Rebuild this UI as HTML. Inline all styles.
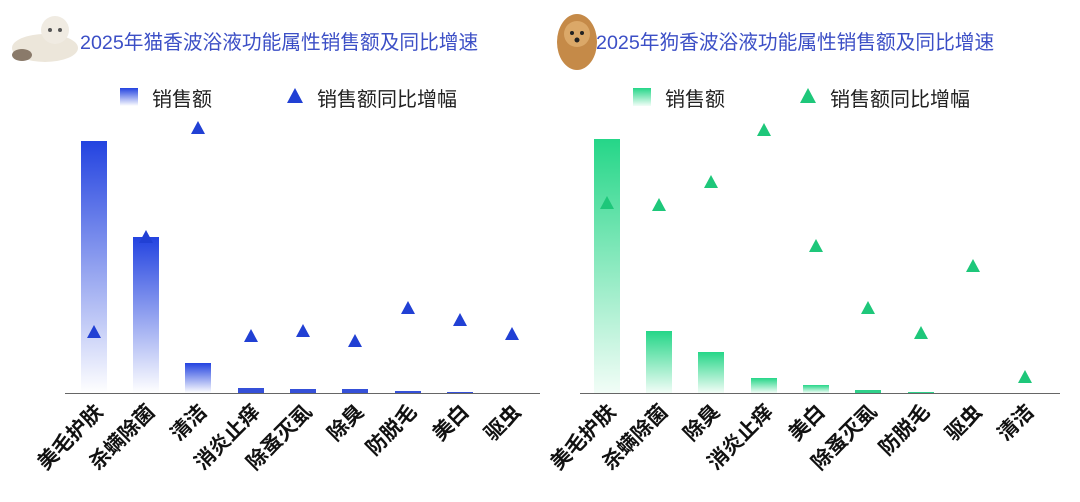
<!DOCTYPE html>
<html><head><meta charset="utf-8"><style>
html,body{margin:0;padding:0;background:#fff;}
svg text{font-family:"Liberation Sans","Noto Sans CJK SC",sans-serif;}
</style></head><body>
<svg width="1080" height="497" viewBox="0 0 1080 497" xmlns="http://www.w3.org/2000/svg">
<defs>
<linearGradient id="gb" x1="0" y1="0" x2="0" y2="1"><stop offset="0" stop-color="#2343e0"/><stop offset="1" stop-color="#ffffff"/></linearGradient>
<linearGradient id="gg" x1="0" y1="0" x2="0" y2="1"><stop offset="0" stop-color="#25d688"/><stop offset="1" stop-color="#f2fdf7"/></linearGradient>
</defs>
<!-- cat -->
<ellipse cx="45" cy="48" rx="33" ry="14" fill="#ece6da"/>
<ellipse cx="22" cy="55" rx="10" ry="6" fill="#8a7a6a"/>
<circle cx="55" cy="30" r="14" fill="#f0ebe2"/>
<circle cx="50" cy="30" r="2" fill="#555"/><circle cx="60" cy="30" r="2" fill="#555"/>
<!-- dog -->
<ellipse cx="577" cy="42" rx="20" ry="28" fill="#c58a48"/>
<circle cx="577" cy="34" r="13" fill="#dba868"/>
<circle cx="572" cy="33" r="2" fill="#222"/><circle cx="582" cy="33" r="2" fill="#222"/>
<circle cx="577" cy="40" r="2.5" fill="#222"/>

<text x="80" y="49" font-size="19.7" fill="#3c4fc6">2025年猫香波浴液功能属性销售额及同比增速</text>
<text x="596" y="49" font-size="19.7" fill="#3c4fc6">2025年狗香波浴液功能属性销售额及同比增速</text>

<rect x="120" y="88" width="18" height="18" fill="url(#gb)"/>
<text x="152" y="106" font-size="20" fill="#222">销售额</text>
<polygon points="295,88 303,103 287,103" fill="#2140d4"/>
<text x="317" y="106" font-size="20" fill="#222">销售额同比增幅</text>

<rect x="633" y="88" width="18" height="18" fill="url(#gg)"/>
<text x="665" y="106" font-size="20" fill="#222">销售额</text>
<polygon points="808,88 816,103 800,103" fill="#1ec77a"/>
<text x="830" y="106" font-size="20" fill="#222">销售额同比增幅</text>

<g fill="url(#gb)">
<rect x="81" y="141" width="26" height="252"/>
<rect x="133" y="237" width="26" height="156"/>
<rect x="185" y="363" width="26" height="30"/>
</g>
<g fill="#3550d8">
<rect x="238" y="388" width="26" height="5"/>
<rect x="290" y="389" width="26" height="4"/>
<rect x="342" y="389" width="26" height="4"/>
<rect x="395" y="391" width="26" height="2"/>
<rect x="447" y="392" width="26" height="1"/>
</g>
<line x1="65" y1="393.5" x2="540" y2="393.5" stroke="#666" stroke-width="1"/>
<g fill="#2140d4">
<polygon points="94,325 101,338 87,338"/>
<polygon points="146,230 153,243 139,243"/>
<polygon points="198,121 205,134 191,134"/>
<polygon points="251,329 258,342 244,342"/>
<polygon points="303,324 310,337 296,337"/>
<polygon points="355,334 362,347 348,347"/>
<polygon points="408,301 415,314 401,314"/>
<polygon points="460,313 467,326 453,326"/>
<polygon points="512,327 519,340 505,340"/>
</g>
<g font-size="20.5" font-weight="bold" fill="#111" text-anchor="end">
<text transform="translate(104,413) rotate(-45)">美毛护肤</text>
<text transform="translate(156,413) rotate(-45)">杀螨除菌</text>
<text transform="translate(208,413) rotate(-45)">清洁</text>
<text transform="translate(261,413) rotate(-45)">消炎止痒</text>
<text transform="translate(313,413) rotate(-45)">除蚤灭虱</text>
<text transform="translate(365,413) rotate(-45)">除臭</text>
<text transform="translate(418,413) rotate(-45)">防脱毛</text>
<text transform="translate(470,413) rotate(-45)">美白</text>
<text transform="translate(522,413) rotate(-45)">驱虫</text>
</g>

<g fill="url(#gg)">
<rect x="594" y="139" width="26" height="254"/>
<rect x="646" y="331" width="26" height="62"/>
<rect x="698" y="352" width="26" height="41"/>
<rect x="751" y="378" width="26" height="15"/>
<rect x="803" y="385" width="26" height="8"/>
</g>
<g fill="#2fd08a">
<rect x="855" y="390" width="26" height="3"/>
<rect x="908" y="392" width="26" height="1"/>
</g>
<line x1="580" y1="393.5" x2="1060" y2="393.5" stroke="#666" stroke-width="1"/>
<g fill="#1ec77a">
<polygon points="607,196 614,209 600,209"/>
<polygon points="659,198 666,211 652,211"/>
<polygon points="711,175 718,188 704,188"/>
<polygon points="764,123 771,136 757,136"/>
<polygon points="816,239 823,252 809,252"/>
<polygon points="868,301 875,314 861,314"/>
<polygon points="921,326 928,339 914,339"/>
<polygon points="973,259 980,272 966,272"/>
<polygon points="1025,370 1032,383 1018,383"/>
</g>
<g font-size="20.5" font-weight="bold" fill="#111" text-anchor="end">
<text transform="translate(617,413) rotate(-45)">美毛护肤</text>
<text transform="translate(669,413) rotate(-45)">杀螨除菌</text>
<text transform="translate(721,413) rotate(-45)">除臭</text>
<text transform="translate(774,413) rotate(-45)">消炎止痒</text>
<text transform="translate(826,413) rotate(-45)">美白</text>
<text transform="translate(878,413) rotate(-45)">除蚤灭虱</text>
<text transform="translate(931,413) rotate(-45)">防脱毛</text>
<text transform="translate(983,413) rotate(-45)">驱虫</text>
<text transform="translate(1035,413) rotate(-45)">清洁</text>
</g>
</svg>
</body></html>
